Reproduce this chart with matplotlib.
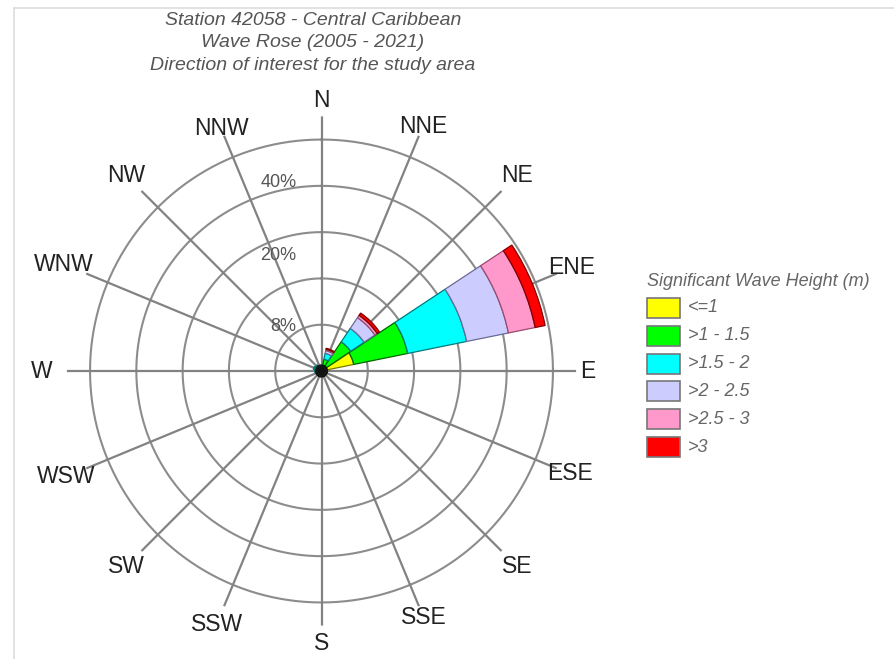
import numpy as np
import matplotlib
matplotlib.use("Agg")
import matplotlib.pyplot as plt
from matplotlib.patches import Rectangle
from matplotlib.lines import Line2D

# --- data -------------------------------------------------------------
directions = ['N', 'NNE', 'NE', 'ENE', 'E', 'ESE', 'SE', 'SSE',
              'S', 'SSW', 'SW', 'WSW', 'W', 'WNW', 'NW', 'NNW']
height_classes = ['<=1', '>1 - 1.5', '>1.5 - 2', '>2 - 2.5', '>2.5 - 3', '>3']
class_colors = ['#ffff00', '#00ff00', '#00ffff', '#ccccff', '#ff99cc', '#ff0000']
class_edges = ['#7a7a00', '#006400', '#007a7a', '#6a6a96', '#9a4a6e', '#800000']

# frequency (%) of each height class per direction
freq_le1     = [0.6, 0.8, 1.0, 7.1, 0.9, 0.4, 0.3, 0.3, 0.3, 0.3, 0.4, 0.5, 0.8, 1.0, 0.9, 0.6]
freq_1_15    = [0.4, 1.8, 6.6, 11.9, 0.3, 0.1, 0.1, 0.1, 0.1, 0.1, 0.2, 0.3, 0.5, 0.6, 0.5, 0.3]
freq_15_2    = [0.1, 1.3, 3.5, 13.0, 0.1, 0.0, 0.0, 0.0, 0.0, 0.0, 0.0, 0.1, 0.2, 0.2, 0.2, 0.1]
freq_2_25    = [0.0, 0.6, 2.8, 9.2, 0.0, 0.0, 0.0, 0.0, 0.0, 0.0, 0.0, 0.0, 0.0, 0.0, 0.0, 0.0]
freq_25_3    = [0.0, 0.3, 0.6, 5.9, 0.0, 0.0, 0.0, 0.0, 0.0, 0.0, 0.0, 0.0, 0.0, 0.0, 0.0, 0.0]
freq_gt3     = [0.0, 0.2, 0.6, 2.2, 0.0, 0.0, 0.0, 0.0, 0.0, 0.0, 0.0, 0.0, 0.0, 0.0, 0.0, 0.0]
class_freqs = [freq_le1, freq_1_15, freq_15_2, freq_2_25, freq_25_3, freq_gt3]

ring_values = [10, 20, 30, 40, 50]
radial_labels = ['8%', '20%', '40%']

title_lines = ['Station 42058 - Central Caribbean',
               'Wave Rose (2005 - 2021)',
               'Direction of interest for the study area']
legend_title = 'Significant Wave Height (m)'

# --- layout / style ---------------------------------------------------
radial_label_r = [12.6, 26.6, 41.7]
radial_label_deg = [-40.8, -20.5, -12.9]
# distance of each compass label from the centre (in radial units)
compass_label_r = [58.5, 57.2, 59.6, 58.6, 57.6, 58.0, 59.8, 57.6,
                   58.8, 59.2, 59.6, 59.6, 60.4, 60.2, 59.8, 56.6]

W, H = 894, 659
fig = plt.figure(figsize=(W / 100, H / 100), dpi=100)
fig.patch.set_facecolor('white')

cx, cy = 321.5, 371.0          # rose centre (px from top-left)
r_px = 254.6                   # spoke length in px
r_max = 55.0                   # spoke length in %
ax = fig.add_axes([(cx - r_px) / W, (H - cy - r_px) / H, 2 * r_px / W, 2 * r_px / H],
                  projection='polar')
ax.set_theta_zero_location('N')
ax.set_theta_direction(-1)
ax.set_ylim(0, r_max)
ax.axis('off')

theta = np.deg2rad(np.arange(16) * 22.5)
grid_col = '#8c8c8c'

# rings
tt = np.linspace(0, 2 * np.pi, 721)
for rv in ring_values:
    ax.plot(tt, np.full_like(tt, rv), color=grid_col, lw=1.5, zorder=1)
# spokes
for th in theta:
    ax.plot([th, th], [0, r_max], color='#828282', lw=1.6, zorder=1)

# stacked bars
width = np.deg2rad(22.0)
bottom = np.zeros(16)
for vals, col, ec in zip(class_freqs, class_colors, class_edges):
    vals = np.array(vals)
    mask = vals > 0
    ax.bar(theta[mask], vals[mask], width=width, bottom=bottom[mask],
           color=col, edgecolor=ec, linewidth=0.9, zorder=3)
    bottom += vals

# dark hub where the short bars overlap
ax.bar(theta, np.full(16, 1.3), width=width, bottom=0, color='#10301a',
       edgecolor='#111111', linewidth=0.8, zorder=4)

# radial labels
for lab, rr, dg in zip(radial_labels, radial_label_r, radial_label_deg):
    ax.text(np.deg2rad(dg), rr, lab, ha='center', va='center',
            fontsize=13, color='#555555', family='Liberation Sans', zorder=5)

# compass labels
for th, d, rr in zip(theta, directions, compass_label_r):
    ax.text(th, rr, d, ha='center', va='center', fontsize=16.5,
            color='#222222', family='Liberation Sans', clip_on=False)

# title
for i, line in enumerate(title_lines):
    fig.text(313 / W, 1 - (20.7 + i * 22.2) / H, line, ha='center', va='center',
             fontsize=14, style='italic', color='#555555', family='Liberation Sans')

# legend
fig.text(647 / W, 1 - 281 / H, legend_title, ha='left', va='center',
         fontsize=13, style='italic', color='#666666', family='Liberation Sans')
for i, (lab, col, ec) in enumerate(zip(height_classes, class_colors, class_edges)):
    y0 = 298 + i * 27.8
    fig.patches.append(Rectangle((647 / W, 1 - (y0 + 20) / H), 33 / W, 20 / H,
                                 transform=fig.transFigure, facecolor=col,
                                 edgecolor='#777777', linewidth=1.2))
    fig.text(688 / W, 1 - (y0 + 10) / H, lab, ha='left', va='center',
             fontsize=13, style='italic', color='#666666', family='Liberation Sans')

# faint outer frame
fig.lines.append(Line2D([14 / W, 1], [1 - 8 / H, 1 - 8 / H], transform=fig.transFigure,
                        color='#dddddd', lw=1.2))
fig.lines.append(Line2D([14 / W, 14 / W], [0, 1 - 8 / H], transform=fig.transFigure,
                        color='#dddddd', lw=1.2))

fig.savefig('out.png', dpi=100)
